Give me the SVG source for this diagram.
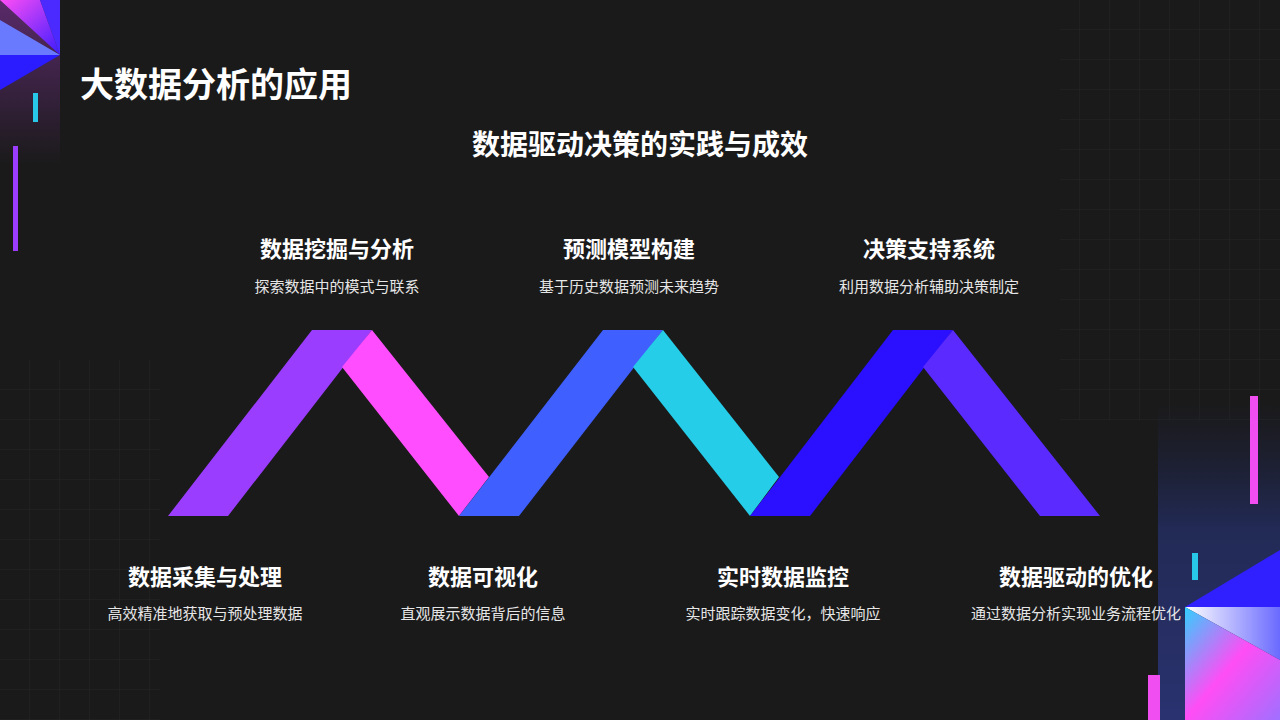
<svg xmlns="http://www.w3.org/2000/svg" width="1280" height="720" viewBox="0 0 1280 720">
<defs>
<style>
.h{font-family:"Noto Sans CJK SC","Noto Sans",sans-serif;font-weight:bold;fill:#fff;text-anchor:middle}
.s{font-family:"Noto Sans CJK SC","Noto Sans",sans-serif;fill:#e6e6e6;font-size:15px;text-anchor:middle}
</style>
<pattern id="grid" width="30" height="30" patternUnits="userSpaceOnUse"><path d="M30 0V30H0" fill="none" stroke="#2a2a2a" stroke-width="1"/></pattern>
<linearGradient id="tl" x1="0" y1="0" x2="0" y2="1"><stop offset="0" stop-color="#5a2a6a"/><stop offset="1" stop-color="#1a1a1a"/></linearGradient>
<linearGradient id="br" x1="0" y1="0" x2="0" y2="1"><stop offset="0" stop-color="#1e2240" stop-opacity="0"/><stop offset="0.4" stop-color="#222a55"/><stop offset="1" stop-color="#2a3270"/></linearGradient>
<linearGradient id="g1" x1="0" y1="0" x2="1" y2="1"><stop offset="0" stop-color="#ff4df5"/><stop offset="1" stop-color="#3a1cff"/></linearGradient>
<linearGradient id="g2" x1="0" y1="0" x2="1" y2="0"><stop offset="0" stop-color="#fff"/><stop offset="1" stop-color="#6a6aff"/></linearGradient>
<linearGradient id="g3" x1="0" y1="0" x2="1" y2="1"><stop offset="0" stop-color="#30d0ff"/><stop offset="0.5" stop-color="#ff4df5"/><stop offset="1" stop-color="#a070ff"/></linearGradient>
</defs>
<rect width="1280" height="720" fill="#1a1a1a"/>
<rect x="1060" y="0" width="220" height="420" fill="url(#grid)" opacity="0.7"/>
<rect x="0" y="360" width="160" height="360" fill="url(#grid)" opacity="0.7"/>
<g id="deco-tl">
<rect x="0" y="0" width="60" height="165" fill="url(#tl)"/>
<polygon points="0,0 40,0 60,55" fill="url(#g1)"/>
<polygon points="0,20 60,55 0,55" fill="#6a7aff"/>
<polygon points="0,55 60,55 0,90" fill="#2a1cff"/>
<polygon points="40,0 60,0 60,55" fill="#4a2aff"/>
<rect x="33" y="93" width="5" height="29" fill="#28c8e8"/>
<rect x="13" y="146" width="5" height="105" fill="#9b3dff"/>
</g>
<g id="deco-br">
<rect x="1158" y="400" width="122" height="320" fill="url(#br)"/>
<rect x="1250" y="396" width="8" height="108" fill="#f04ef0"/>
<rect x="1192" y="553" width="6" height="27" fill="#28c8e8"/>
<rect x="1148" y="675" width="12" height="45" fill="#f04ef0"/>
<polygon points="1185,607 1280,550 1280,607" fill="#3020ff"/>
<polygon points="1185,607 1280,607 1280,660" fill="url(#g2)"/>
<polygon points="1185,607 1280,660 1280,720 1185,720" fill="url(#g3)"/>
</g>
<text x="80" y="97" class="h" style="text-anchor:start;font-size:34px">大数据分析的应用</text>
<text x="640" y="155" class="h" style="font-size:28px">数据驱动决策的实践与成效</text>
<g id="zigzag">
<polygon points="168,516 228,516 372,330 312,330" fill="#9b3dff"/>
<polygon points="372,330 489,477 459,516 342,367" fill="#ff4dff"/>
<polygon points="459,516 519,516 663,330 603,330" fill="#3f5fff"/>
<polygon points="663,330 779,477 750,516 633,367" fill="#26cde8"/>
<polygon points="750,516 810,516 953,330 893,330" fill="#2a10ff"/>
<polygon points="953,330 1100,516 1040,516 923,367" fill="#5a2aff"/>
</g>
<g id="n1"><text x="337" y="257" class="h" font-size="22">数据挖掘与分析</text><text x="337" y="292" class="s">探索数据中的模式与联系</text></g>
<g id="n2"><text x="629" y="257" class="h" font-size="22">预测模型构建</text><text x="629" y="292" class="s">基于历史数据预测未来趋势</text></g>
<g id="n3"><text x="929" y="257" class="h" font-size="22">决策支持系统</text><text x="929" y="292" class="s">利用数据分析辅助决策制定</text></g>
<g id="n4"><text x="205" y="585" class="h" font-size="22">数据采集与处理</text><text x="205" y="619" class="s">高效精准地获取与预处理数据</text></g>
<g id="n5"><text x="483" y="585" class="h" font-size="22">数据可视化</text><text x="483" y="619" class="s">直观展示数据背后的信息</text></g>
<g id="n6"><text x="783" y="585" class="h" font-size="22">实时数据监控</text><text x="783" y="619" class="s">实时跟踪数据变化，快速响应</text></g>
<g id="n7"><text x="1076" y="585" class="h" font-size="22">数据驱动的优化</text><text x="1076" y="619" class="s">通过数据分析实现业务流程优化</text></g>
</svg>
